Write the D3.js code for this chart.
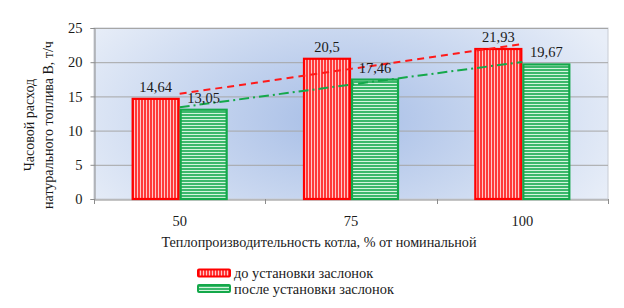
<!DOCTYPE html>
<html><head><meta charset="utf-8">
<script src="https://cdn.jsdelivr.net/npm/d3@7"></script>
<style>body{margin:0;background:#fff}svg{display:block}</style>
</head><body>
<svg id="c" width="624" height="308"></svg>
<script>
const categories = ["50", "75", "100"];
const seriesNames = ["до установки заслонок", "после установки заслонок"];
const before = [14.64, 20.5, 21.93];
const after = [13.05, 17.46, 19.67];
const valueLabelsBefore = ["14,64", "20,5", "21,93"];
const valueLabelsAfter = ["13,05", "17,46", "19,67"];
const yTicks = [0, 5, 10, 15, 20, 25];

const svg = d3.select("#c");
const font = "'Liberation Serif','Times New Roman',serif";
const L = 94, R = 608, T = 28, B = 199;

const x = d3.scaleBand().domain(categories).range([L, R]);
const y = d3.scaleLinear().domain([0, 25]).range([B, T]);

const defs = svg.append("defs");
const rg = defs.append("radialGradient").attr("id", "bg")
  .attr("gradientUnits", "userSpaceOnUse").attr("cx", 340).attr("cy", 120).attr("r", 300)
  .attr("gradientTransform", "translate(340,120) scale(1,0.55) translate(-340,-120)");
rg.append("stop").attr("offset", "0").attr("stop-color", "#a6bde6");
rg.append("stop").attr("offset", "0.55").attr("stop-color", "#cad8f0");
rg.append("stop").attr("offset", "1").attr("stop-color", "#e8eef8");

const pr = defs.append("pattern").attr("id", "pr").attr("patternUnits", "userSpaceOnUse")
  .attr("width", 3).attr("height", 3);
pr.append("rect").attr("width", 3).attr("height", 3).attr("fill", "#ff3a3a");
pr.append("rect").attr("x", 2).attr("width", 1).attr("height", 3).attr("fill", "#ffc8c8");
const pg = defs.append("pattern").attr("id", "pg").attr("patternUnits", "userSpaceOnUse")
  .attr("width", 3).attr("height", 3);
pg.append("rect").attr("width", 3).attr("height", 3).attr("fill", "#3cb86c");
pg.append("rect").attr("y", 2).attr("width", 3).attr("height", 1).attr("fill", "#d4f4de");

// plot background
svg.append("rect").attr("x", L).attr("y", T).attr("width", R - L).attr("height", B - T)
  .attr("fill", "url(#bg)").attr("stroke", "#c8ccd4").attr("stroke-width", 1);

// gridlines
svg.append("g").selectAll("line").data(yTicks.filter(d => d > 0)).join("line")
  .attr("x1", L).attr("x2", R).attr("y1", d => y(d) + 0.5).attr("y2", d => y(d) + 0.5)
  .attr("stroke", "#a6a6a6").attr("stroke-width", 1);

// y axis
const yAxis = svg.append("g").attr("transform", `translate(${L + 0.5},0)`)
  .call(d3.axisLeft(y).tickValues(yTicks).tickSize(4).tickPadding(8));
yAxis.select(".domain").attr("stroke", "#8c8c8c");
yAxis.selectAll(".tick line").attr("stroke", "#8c8c8c");
yAxis.selectAll("text").attr("font-family", font).attr("font-size", 14.5).attr("fill", "#1a1a1a");

// x axis
const xAxis = svg.append("g").attr("transform", `translate(0,${B + 0.5})`)
  .call(d3.axisBottom(x).tickSize(0).tickPadding(16));
xAxis.select(".domain").attr("stroke", "#8c8c8c");
xAxis.selectAll("text").attr("font-family", font).attr("font-size", 14.5).attr("fill", "#1a1a1a");
svg.append("g").selectAll("line").data(d3.range(categories.length + 1)).join("line")
  .attr("x1", i => Math.round(L + i * x.bandwidth()) + 0.5)
  .attr("x2", i => Math.round(L + i * x.bandwidth()) + 0.5)
  .attr("y1", B).attr("y2", B + 5).attr("stroke", "#8c8c8c");

// bars
const bw = 48;
const inner = d3.scaleBand().domain([0, 1]).range([0, bw * 2]);
const off = (x.bandwidth() - bw * 2) / 2;
const series = [before, after];
const fills = ["url(#pr)", "url(#pg)"];
const strokes = ["#ff0000", "#14a84a"];
const labels = [valueLabelsBefore, valueLabelsAfter];
series.forEach((vals, s) => {
  svg.append("g").selectAll("rect").data(vals).join("rect")
    .attr("x", (d, i) => x(categories[i]) + off + inner(s) + 1)
    .attr("y", d => y(d))
    .attr("width", inner.bandwidth() - 2)
    .attr("height", d => B - y(d))
    .attr("fill", fills[s]).attr("stroke", strokes[s]).attr("stroke-width", 2.2);
});

// trendlines (linear regression)
function trend(vals) {
  const n = vals.length, xs = d3.range(1, n + 1);
  const mx = d3.mean(xs), my = d3.mean(vals);
  const b = d3.sum(xs, (xi, i) => (xi - mx) * (vals[i] - my)) / d3.sum(xs, xi => (xi - mx) ** 2);
  const a = my - b * mx;
  return xs.map((xi, i) => [x(categories[i]) + x.bandwidth() / 2, y(a + b * xi)]);
}
const line = d3.line();
svg.append("path").attr("d", line(trend(before))).attr("fill", "none")
  .attr("stroke", "#ff1a1a").attr("stroke-width", 2).attr("stroke-dasharray", "7,5");
svg.append("path").attr("d", line(trend(after))).attr("fill", "none")
  .attr("stroke", "#14a84a").attr("stroke-width", 2).attr("stroke-dasharray", "10,4,2,4");

// value labels
series.forEach((vals, s) => {
  svg.append("g").selectAll("text").data(vals).join("text")
    .attr("x", (d, i) => x(categories[i]) + off + inner(s) + inner.bandwidth() / 2)
    .attr("y", d => y(d) - 7)
    .attr("text-anchor", "middle").attr("font-family", font).attr("font-size", 14.5).attr("fill", "#1a1a1a")
    .text((d, i) => labels[s][i]);
});

// axis titles
svg.append("text").attr("x", 319).attr("y", 247).attr("text-anchor", "middle")
  .attr("font-family", font).attr("font-size", 14.2).attr("fill", "#1a1a1a")
  .text("Теплопроизводительность котла, % от номинальной");
const yt = svg.append("text").attr("transform", "translate(0,125) rotate(-90)")
  .attr("text-anchor", "middle").attr("font-family", font).attr("font-size", 14).attr("fill", "#1a1a1a");
yt.append("tspan").attr("x", 0).attr("y", 34).text("Часовой расход");
yt.append("tspan").attr("x", 0).attr("y", 53).text("натурального топлива В, т/ч");

// legend
const leg = svg.append("g");
seriesNames.forEach((nm, i) => {
  const cy = 273 + i * 15.5;
  leg.append("rect").attr("x", 198).attr("y", cy - 3.5).attr("width", 32).attr("height", 7)
    .attr("fill", fills[i]).attr("stroke", strokes[i]).attr("stroke-width", 2).attr("rx", 1);
  leg.append("text").attr("x", 234).attr("y", cy + 5).attr("font-family", font)
    .attr("font-size", 14.4).attr("fill", "#1a1a1a").text(nm);
});
</script>
</body></html>
